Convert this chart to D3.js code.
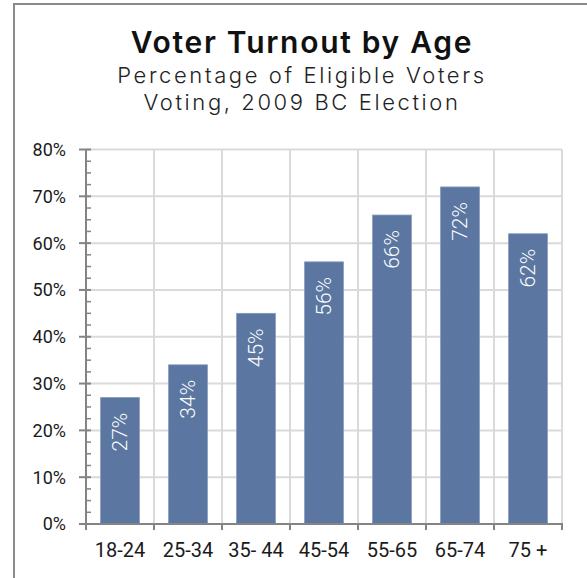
<!DOCTYPE html>
<html>
<head>
<meta charset="utf-8">
<script src="https://cdn.jsdelivr.net/npm/d3@7"></script>
<style>
  html, body { margin: 0; padding: 0; background: #fff; }
  svg { display: block; }
</style>
</head>
<body>
<svg id="chart" width="587" height="578"></svg>
<script>
// Voter turnout by age group, 2009 BC provincial election
const ageGroups = ["18-24", "25-34", "35- 44", "45-54", "55-65", "65-74", "75 +"];
const turnout = [0.27, 0.34, 0.45, 0.56, 0.66, 0.72, 0.62];
const yTicks = [0, 0.1, 0.2, 0.3, 0.4, 0.5, 0.6, 0.7, 0.8];
const titleText = "Voter Turnout by Age";
const subtitleLines = ["Percentage of Eligible Voters", "Voting, 2009 BC Election"];

const svg = d3.select("#chart");
const W = 587, H = 578;
const plot = { left: 86, right: 562, top: 149.5, bottom: 524 };

const x = d3.scaleBand()
  .domain(ageGroups)
  .range([plot.left, plot.right])
  .paddingInner(0.43)
  .paddingOuter(0.215);

const y = d3.scaleLinear()
  .domain([0, 0.8])
  .range([plot.bottom, plot.top]);

const axisColor = "#848484";
const gridColor = "#dadada";
const barColor = "#5b77a1";

// outer frame (only the top and left edges fall inside the view)
svg.append("path")
  .attr("d", `M14,${H} L14,4 L${W},4`)
  .attr("fill", "none")
  .attr("stroke", "#8a8a8a")
  .attr("stroke-width", 2);

// titles
const cx = 302;
svg.append("text")
  .attr("x", cx).attr("y", 53)
  .attr("text-anchor", "middle")
  .attr("font-family", "Inter, 'Noto Sans', sans-serif")
  .attr("font-weight", 600)
  .attr("font-size", 30)
  .attr("letter-spacing", 1.7)
  .attr("fill", "#111")
  .text(titleText);

svg.selectAll("text.subtitle")
  .data(subtitleLines)
  .join("text")
  .attr("class", "subtitle")
  .attr("x", cx)
  .attr("y", (d, i) => 83 + i * 27)
  .attr("text-anchor", "middle")
  .attr("font-family", "Inter, 'Noto Sans', sans-serif")
  .attr("font-weight", 300)
  .attr("font-size", 22)
  .attr("letter-spacing", 2.6)
  .attr("fill", "#222")
  .text(d => d);

// horizontal gridlines
const bandEdges = ageGroups.map(d => x(d) - x.step() * x.paddingInner() / 2 + x.step());
svg.append("g")
  .selectAll("line")
  .data(yTicks.filter(t => t > 0))
  .join("line")
  .attr("x1", plot.left).attr("x2", plot.right)
  .attr("y1", d => y(d)).attr("y2", d => y(d))
  .attr("stroke", gridColor)
  .attr("stroke-width", 2);

// vertical gridlines at category boundaries
svg.append("g")
  .selectAll("line")
  .data(bandEdges)
  .join("line")
  .attr("x1", d => d).attr("x2", d => d)
  .attr("y1", plot.top).attr("y2", plot.bottom)
  .attr("stroke", gridColor)
  .attr("stroke-width", 2);

// bars
svg.append("g")
  .selectAll("rect")
  .data(turnout)
  .join("rect")
  .attr("x", (d, i) => x(ageGroups[i]))
  .attr("width", x.bandwidth())
  .attr("y", d => y(d))
  .attr("height", d => y(0) - y(d))
  .attr("fill", barColor)
  .attr("stroke", "#8297b9")
  .attr("stroke-width", 0.8);

// value labels inside the bars, reading upward
const fmt = d3.format(".0%");
svg.append("g")
  .selectAll("text")
  .data(turnout)
  .join("text")
  .attr("transform", (d, i) =>
    `translate(${x(ageGroups[i]) + x.bandwidth() / 2},${y(d) + 15}) rotate(-90)`)
  .attr("text-anchor", "end")
  .attr("dominant-baseline", "central")
  .attr("font-family", "Roboto, sans-serif")
  .attr("font-weight", 300)
  .attr("font-size", 21)
  .attr("fill", "#ffffff")
  .text(d => fmt(d));

// y axis with major and minor ticks
const yAxis = svg.append("g");
yAxis.append("line")
  .attr("x1", plot.left).attr("x2", plot.left)
  .attr("y1", plot.top).attr("y2", plot.bottom + 6)
  .attr("stroke", axisColor).attr("stroke-width", 2);

const minorTicks = d3.range(0, 0.8 + 1e-9, 0.025)
  .filter(v => Math.abs(v * 10 - Math.round(v * 10)) > 1e-6);
yAxis.selectAll("line.minor")
  .data(minorTicks)
  .join("line")
  .attr("class", "minor")
  .attr("x1", plot.left).attr("x2", plot.left + 5)
  .attr("y1", d => y(d)).attr("y2", d => y(d))
  .attr("stroke", axisColor).attr("stroke-width", 1.5);

yAxis.selectAll("line.major")
  .data(yTicks)
  .join("line")
  .attr("class", "major")
  .attr("x1", plot.left - 7).attr("x2", plot.left + 5)
  .attr("y1", d => y(d)).attr("y2", d => y(d))
  .attr("stroke", axisColor).attr("stroke-width", 2);

yAxis.selectAll("text")
  .data(yTicks)
  .join("text")
  .attr("x", 66)
  .attr("y", d => y(d))
  .attr("dy", "0.36em")
  .attr("text-anchor", "end")
  .attr("font-family", "Roboto, sans-serif")
  .attr("font-size", 18)
  .attr("fill", "#1a1a1a")
  .text(d => fmt(d));

// x axis
const xAxis = svg.append("g");
xAxis.append("line")
  .attr("x1", plot.left - 7).attr("x2", plot.right + 1)
  .attr("y1", plot.bottom).attr("y2", plot.bottom)
  .attr("stroke", axisColor).attr("stroke-width", 2);

xAxis.selectAll("line.tick")
  .data(bandEdges)
  .join("line")
  .attr("class", "tick")
  .attr("x1", d => d).attr("x2", d => d)
  .attr("y1", plot.bottom).attr("y2", plot.bottom + 6)
  .attr("stroke", axisColor).attr("stroke-width", 2);

xAxis.selectAll("text")
  .data(ageGroups)
  .join("text")
  .attr("x", d => x(d) + x.bandwidth() / 2)
  .attr("y", 557)
  .attr("text-anchor", "middle")
  .attr("font-family", "Roboto, sans-serif")
  .attr("font-size", 20)
  .attr("fill", "#1a1a1a")
  .text(d => d);
</script>
</body>
</html>
